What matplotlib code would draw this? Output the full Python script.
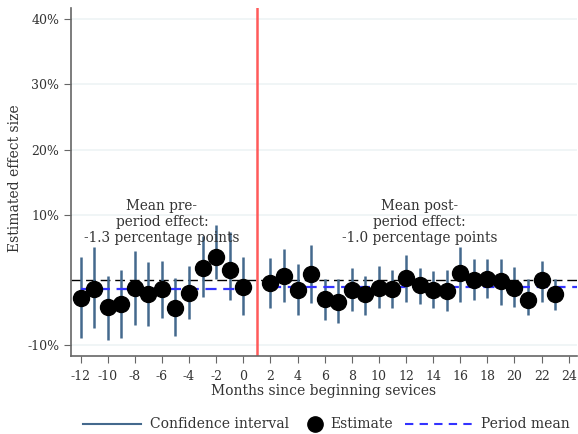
import numpy as np
import matplotlib
matplotlib.use('Agg')
import matplotlib.pyplot as plt
from matplotlib.lines import Line2D

plt.rcParams['font.family'] = 'DejaVu Serif'
plt.rcParams['axes.unicode_minus'] = False

# pre-period months and estimates (percent)
pre_months = [-12, -11, -10, -9, -8, -7, -6, -5, -4, -3, -2, -1, 0]
pre_est = [-2.7, -1.3, -4.1, -3.6, -1.2, -2.2, -1.4, -4.3, -1.9, 1.9, 3.6, 1.5, -1.0]
pre_hi = [3.5, 5.1, 0.7, 1.6, 4.4, 2.7, 3.0, 0.4, 2.1, 6.7, 8.5, 7.4, 3.5]
pre_lo = [-8.8, -7.3, -9.1, -8.8, -6.8, -7.0, -5.8, -8.6, -5.9, -2.6, 0.2, -3.1, -5.3]

# post-period months and estimates (percent)
post_months = list(range(2, 24))
post_est = [-0.4, 0.7, -1.5, 1.0, -2.9, -3.3, -1.5, -2.1, -1.2, -1.4, 0.3, -0.7,
            -1.5, -1.6, 1.1, 0.0, 0.2, -0.1, -1.2, -3.0, 0.0, -2.2]
post_hi = [3.4, 4.7, 2.5, 5.4, 0.2, 0.1, 1.9, 0.7, 2.1, 1.6, 3.9, 1.9,
           1.4, 1.6, 5.1, 3.3, 3.3, 3.3, 2.0, 0.1, 3.0, 0.1]
post_lo = [-4.2, -3.4, -5.3, -3.5, -6.1, -6.5, -4.8, -5.3, -4.2, -4.2, -3.4, -3.6,
           -4.3, -4.7, -3.3, -3.1, -2.7, -3.8, -4.1, -5.4, -3.3, -4.5]

pre_mean = -1.3
post_mean = -1.0
yticks = [-10, 10, 20, 30, 40]
xticks = list(range(-12, 25, 2))

ci_color = '#44698d'
mean_color = '#3333ff'
spine_color = '#666666'
text_color = '#333333'

fig = plt.figure(figsize=(5.78, 4.34), dpi=100)
ax = fig.add_axes([0.123, 0.18, 0.875, 0.802])

ax.axhline(0, color='black', lw=1, ls=(0, (7, 3.5)), zorder=1)
ax.axvline(1, color='#ff5a5a', lw=1.8, zorder=1)

months = pre_months + post_months
lo = pre_lo + post_lo
hi = pre_hi + post_hi
est = pre_est + post_est
ax.vlines(months, lo, hi, color=ci_color, lw=1.8, zorder=2)
ax.plot(pre_months, [pre_mean] * len(pre_months), color=mean_color, lw=1.6,
        ls=(0, (5, 3)), zorder=3)
ax.plot([post_months[0], 24.6], [post_mean, post_mean], color=mean_color, lw=1.6,
        ls=(0, (5, 3)), zorder=3)
ax.plot(months, est, 'o', color='black', ms=11.5, zorder=4)

ax.text(-6, 8.9, 'Mean pre-\nperiod effect:\n-1.3 percentage points',
        ha='center', va='center', fontsize=9.8, color=text_color, linespacing=1.2)
ax.text(13, 8.9, 'Mean post-\nperiod effect:\n-1.0 percentage points',
        ha='center', va='center', fontsize=9.8, color=text_color, linespacing=1.2)

ax.set_xlim(-12.7, 24.6)
ax.set_ylim(-11.6, 41.7)
ax.set_yticks(yticks)
ax.set_yticklabels([f'{t}%' for t in yticks])
ax.set_xticks(xticks)
ax.grid(axis='y', color='#eef4f5', lw=1.2, zorder=0)
ax.set_axisbelow(True)
for s in ['top', 'right']:
    ax.spines[s].set_visible(False)
for s in ['left', 'bottom']:
    ax.spines[s].set_color(spine_color)
    ax.spines[s].set_linewidth(1.2)
ax.tick_params(colors=text_color, labelsize=9, length=5, color=spine_color)
ax.tick_params(axis='x', pad=5)
ax.set_xlabel('Months since beginning sevices', fontsize=10, color=text_color, labelpad=1)
ax.set_ylabel('Estimated effect size', fontsize=10, color=text_color)
ax.yaxis.set_label_coords(-0.098, 0.51)

# legend entries placed one by one, like the original layout
entries = [
    (Line2D([], [], color=ci_color, lw=1.5), 'Confidence interval', 0.1436, 4.2),
    (Line2D([], [], marker='o', color='black', ls='none', ms=11), 'Estimate', 0.533, 1.0),
    (Line2D([], [], color=mean_color, lw=1.5, ls=(0, (4, 3))), 'Period mean', 0.70, 4.9),
]
for h, lab, x0, hl in entries:
    leg = fig.legend([h], [lab], loc='center left', bbox_to_anchor=(x0, 0.022),
                     frameon=False, fontsize=10, handlelength=hl, handletextpad=0.6,
                     labelcolor=text_color, borderaxespad=0, borderpad=0)

fig.savefig('out.png', dpi=100)
